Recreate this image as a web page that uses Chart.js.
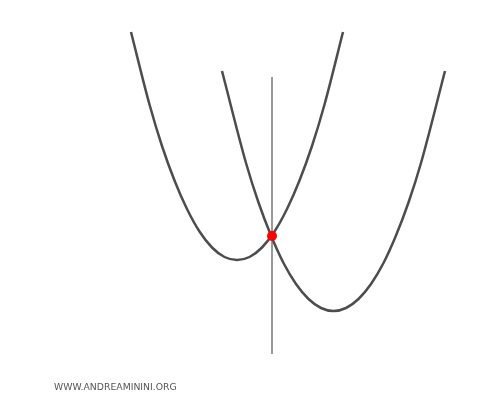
<!DOCTYPE html>
<html>
<head>
<meta charset="utf-8">
<script src="https://cdn.jsdelivr.net/npm/chart.js@4"></script>
<style>
	body { margin: 0; background: #fff; }
	.wrap { position: relative; width: 500px; height: 400px; }
	.credit {
		position: absolute;
		left: 54px;
		top: 381px;
		font: 9.3px "DejaVu Sans", Verdana, sans-serif;
		color: #555;
	}
</style>
</head>
<body>
<div class="wrap">
	<canvas id="parabolas" width="500" height="400"></canvas>
	<div class="credit">WWW.ANDREAMININI.ORG</div>
</div>
<script>
// values (1 unit = 50px, origin at the left vertex)
const firstX = [-2.12, -1.75, -1.5, -1.25, -1, -0.75, -0.5, -0.25, 0,
	0.25, 0.5, 0.75, 1, 1.25, 1.5, 1.75, 2.12];
const firstY = [4.56, 3.11, 2.28, 1.59, 1.02, 0.57, 0.25, 0.06, 0,
	0.06, 0.25, 0.57, 1.02, 1.59, 2.28, 3.11, 4.56];

const secondX = [-0.3, 0.18, 0.43, 0.68, 0.93, 1.18, 1.43, 1.68, 1.93,
	2.18, 2.43, 2.68, 2.93, 3.18, 3.43, 3.68, 4.16];
const secondY = [3.78, 1.94, 1.15, 0.49, -0.06, -0.48, -0.78, -0.96, -1.02,
	-0.96, -0.78, -0.48, -0.06, 0.49, 1.15, 1.94, 3.78];

const lineX = [0.7, 0.7];
const lineY = [3.66, -1.88];

const meetX = [0.7];
const meetY = [0.48];

const toPoints = (xs, ys) => xs.map((x, i) => ({ x, y: ys[i] }));

const curveStyle = {
	showLine: true,
	borderColor: '#4d4d4d',
	borderWidth: 2.5,
	pointRadius: 0,
	cubicInterpolationMode: 'monotone',
	order: 1,
};

new Chart(document.getElementById('parabolas'), {
	type: 'scatter',
	data: {
		datasets: [
			{ ...curveStyle, data: toPoints(firstX, firstY) },
			{ ...curveStyle, data: toPoints(secondX, secondY) },
			{
				data: toPoints(lineX, lineY),
				showLine: true,
				borderColor: '#8c8c8c',
				borderWidth: 1,
				pointRadius: 0,
				order: 2,
			},
			{
				data: toPoints(meetX, meetY),
				pointRadius: 5,
				backgroundColor: '#ff0000',
				borderColor: '#ff0000',
				borderWidth: 0,
				order: 0,
			},
		],
	},
	options: {
		responsive: false,
		animation: false,
		layout: { padding: 0, autoPadding: false },
		plugins: {
			legend: { display: false },
			tooltip: { enabled: false },
		},
		scales: {
			x: { type: 'linear', min: -4.74, max: 5.26, display: false },
			y: { type: 'linear', min: -2.8, max: 5.2, display: false },
		},
	},
});
</script>
</body>
</html>
